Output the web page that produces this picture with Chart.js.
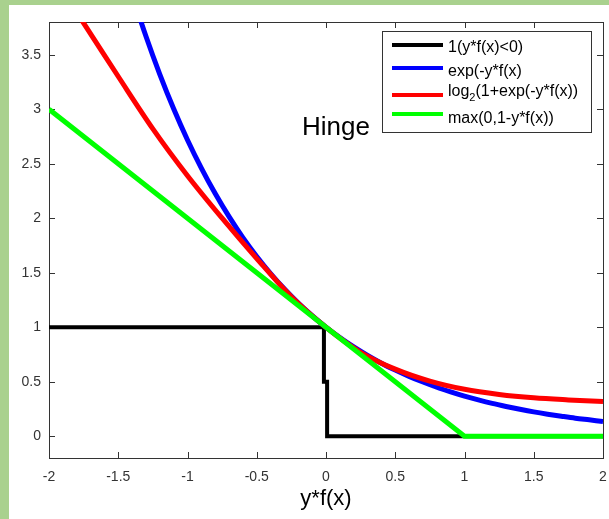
<!DOCTYPE html>
<html><head><meta charset="utf-8">
<script src="https://cdn.jsdelivr.net/npm/chart.js@4.4.0/dist/chart.umd.min.js"></script>
<style>html,body{margin:0;padding:0;background:#fff;overflow:hidden}canvas{display:block}</style>
</head><body>
<canvas id="c" width="609" height="519"></canvas>
<script>
// ---- data ----
const xTicks = [-2, -1.5, -1, -0.5, 0, 0.5, 1, 1.5, 2];
const xTickLabels = ['-2', '-1.5', '-1', '-0.5', '0', '0.5', '1', '1.5', '2'];
const yTicks = [0, 0.5, 1, 1.5, 2, 2.5, 3, 3.5];
const yTickLabels = ['0', '0.5', '1', '1.5', '2', '2.5', '3', '3.5'];
const xTitle = 'y*f(x)';
const annotationText = 'Hinge';
const seriesNames = ['1(y*f(x)<0)', 'exp(-y*f(x)', 'log2(1+exp(-y*f(x))', 'max(0,1-y*f(x))'];
const seriesColors = ['#000000', '#0000ff', '#ff0000', '#00ff00'];

const zeroOneX = [-2, -0.015, -0.015, 0.008, 0.008, 2];
const zeroOneY = [1, 1, 0.5, 0.5, 0, 0];

const expX = [-1.5, -1.4, -1.3, -1.2, -1.1, -1.0, -0.9, -0.8, -0.7, -0.6, -0.5, -0.4, -0.3, -0.2, -0.1, 0,
              0.1, 0.2, 0.3, 0.4, 0.5, 0.6, 0.7, 0.8, 0.9, 1.0, 1.1, 1.2, 1.3, 1.4, 1.5, 1.6, 1.7, 1.8, 1.9, 2.0];
const expY = [4.482, 4.055, 3.669, 3.320, 3.004, 2.718, 2.460, 2.226, 2.014, 1.822, 1.649, 1.492, 1.350, 1.221, 1.105, 1.0,
              0.905, 0.819, 0.741, 0.670, 0.607, 0.549, 0.497, 0.449, 0.407, 0.368, 0.333, 0.301, 0.273, 0.247, 0.223, 0.202, 0.183, 0.165, 0.150, 0.135];

const logX = [-2.0, -1.75, -1.5, -1.25, -1.0, -0.75, -0.5, -0.25, 0, 0.25, 0.5, 0.75, 1.0, 1.25, 1.5, 1.75, 2.0];
const logY = [4.27, 3.79, 3.30, 2.82, 2.39, 2.00, 1.63, 1.28, 1.0, 0.77, 0.615, 0.505, 0.43, 0.383, 0.352, 0.333, 0.318];

const hingeX = [-2, 1, 2];
const hingeY = [3, 0, 0];

// ---- helpers ----
const pts = (xs, ys) => xs.map((x, i) => ({ x: x, y: ys[i] }));
const FONT = 'Arial, "Liberation Sans", Helvetica, sans-serif';
const AXIS = '#333333';

const deco = {
  id: 'deco',
  beforeDraw(chart) {
    const ctx = chart.ctx;
    ctx.save();
    ctx.fillStyle = '#ffffff';
    ctx.fillRect(0, 0, chart.width, chart.height);
    ctx.fillStyle = '#a9d18e';
    ctx.fillRect(0, 0, 9, chart.height);
    ctx.fillRect(0, 0, chart.width, 5);
    ctx.restore();
  },
  beforeDatasetsDraw(chart) {
    const { ctx, chartArea: a, scales: { x, y } } = chart;
    ctx.save();
    ctx.strokeStyle = AXIS;
    ctx.lineWidth = 1;
    ctx.beginPath();
    for (const v of xTicks) {
      const p = Math.round(x.getPixelForValue(v)) + 0.5;
      ctx.moveTo(p, a.bottom); ctx.lineTo(p, a.bottom - 6);
      ctx.moveTo(p, a.top); ctx.lineTo(p, a.top + 6);
    }
    for (const v of yTicks) {
      const p = Math.round(y.getPixelForValue(v)) + 0.5;
      ctx.moveTo(a.left, p); ctx.lineTo(a.left + 6, p);
      ctx.moveTo(a.right, p); ctx.lineTo(a.right - 6, p);
    }
    ctx.stroke();
    ctx.strokeRect(Math.round(a.left) + 0.5, Math.round(a.top) + 0.5,
                   Math.round(a.right - a.left), Math.round(a.bottom - a.top));
    ctx.restore();
  },
  afterDraw(chart) {
    const { ctx, chartArea: a } = chart;
    ctx.save();
    // x title
    ctx.fillStyle = '#000';
    ctx.font = '22px ' + FONT;
    ctx.textAlign = 'center';
    ctx.textBaseline = 'alphabetic';
    ctx.fillText(xTitle, (a.left + a.right) / 2, 505);
    // annotation
    ctx.textAlign = 'left';
    ctx.font = '26px ' + FONT;
    ctx.fillText(annotationText, 302, 135);
    // legend box
    const bx = 382, by = 31, bw = 209, bh = 101;
    ctx.fillStyle = '#fff';
    ctx.fillRect(bx, by, bw, bh);
    ctx.strokeStyle = AXIS;
    ctx.lineWidth = 1;
    ctx.strokeRect(bx + 0.5, by + 0.5, bw, bh);
    const lineYs = [45, 68, 95, 114];
    const textYs = [48, 72, 95, 119];
    ctx.textBaseline = 'middle';
    for (let i = 0; i < seriesNames.length; i++) {
      ctx.strokeStyle = seriesColors[i];
      ctx.lineWidth = 4;
      ctx.beginPath();
      ctx.moveTo(392, lineYs[i]); ctx.lineTo(443, lineYs[i]);
      ctx.stroke();
      ctx.fillStyle = '#000';
      ctx.font = '16px ' + FONT;
      let name = seriesNames[i];
      let tx = 448;
      if (name.startsWith('log2')) {
        ctx.fillText('log', tx, textYs[i] - 3);
        tx += ctx.measureText('log').width;
        ctx.font = '11px ' + FONT;
        ctx.fillText('2', tx, textYs[i] + 3);
        tx += ctx.measureText('2').width;
        ctx.font = '16px ' + FONT;
        ctx.fillText(name.slice(4), tx, textYs[i] - 3);
      } else {
        ctx.fillText(name, tx, textYs[i]);
      }
    }
    ctx.restore();
  }
};

new Chart(document.getElementById('c'), {
  type: 'line',
  data: {
    datasets: [
      { label: seriesNames[3], data: pts(hingeX, hingeY), borderColor: seriesColors[3], borderWidth: 5, order: 0 },
      { label: seriesNames[2], data: pts(logX, logY), borderColor: seriesColors[2], borderWidth: 5, cubicInterpolationMode: 'monotone', order: 1 },
      { label: seriesNames[1], data: pts(expX, expY), borderColor: seriesColors[1], borderWidth: 5, cubicInterpolationMode: 'monotone', order: 2 },
      { label: seriesNames[0], data: pts(zeroOneX, zeroOneY), borderColor: seriesColors[0], borderWidth: 4, order: 3 }
    ]
  },
  options: {
    responsive: false,
    animation: false,
    devicePixelRatio: 1,
    layout: { padding: { top: 22, right: 6, left: 0, bottom: 0 } },
    elements: { point: { radius: 0, hoverRadius: 0 }, line: { fill: false, tension: 0, borderJoinStyle: 'miter', borderCapStyle: 'butt' } },
    datasets: { line: { clip: 0 } },
    plugins: { legend: { display: false }, tooltip: { enabled: false } },
    scales: {
      x: {
        type: 'linear', min: -2, max: 2,
        afterBuildTicks: s => { s.ticks = xTicks.map(v => ({ value: v })); },
        afterFit: s => { s.height = 61; s.paddingLeft = 0; s.paddingRight = 0; },
        ticks: { callback: v => { const i = xTicks.indexOf(v); return i >= 0 ? xTickLabels[i] : ''; },
                 padding: 11, maxRotation: 0, autoSkip: false, color: AXIS, font: { family: FONT, size: 14 } },
        grid: { display: false, drawTicks: false },
        border: { display: false }
      },
      y: {
        type: 'linear', min: -0.2, max: 3.8,
        afterBuildTicks: s => { s.ticks = yTicks.map(v => ({ value: v })); },
        afterFit: s => { s.width = 49; s.paddingTop = 0; s.paddingBottom = 0; },
        ticks: { callback: v => { const i = yTicks.indexOf(v); return i >= 0 ? yTickLabels[i] : ''; },
                 padding: 8, autoSkip: false, color: AXIS, font: { family: FONT, size: 14 } },
        grid: { display: false, drawTicks: false },
        border: { display: false }
      }
    }
  },
  plugins: [deco]
});
</script>
</body></html>
